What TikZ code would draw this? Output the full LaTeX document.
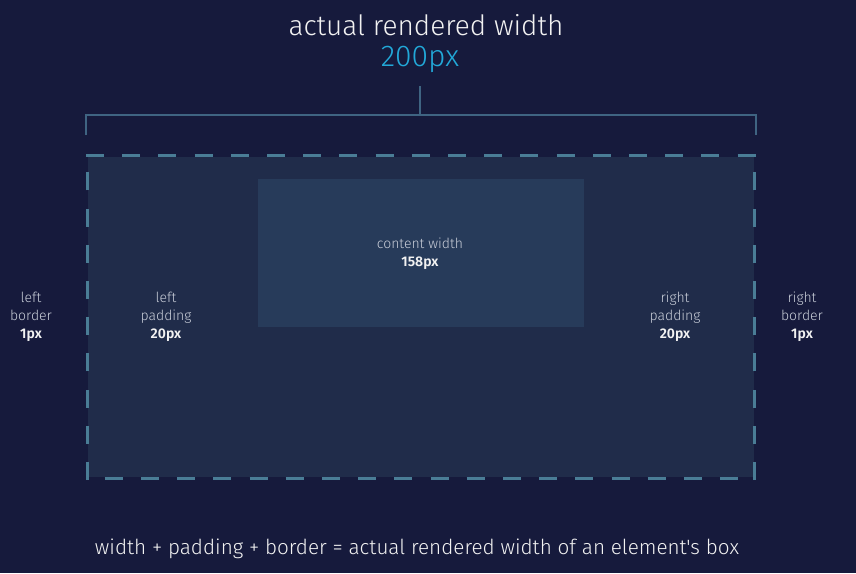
\documentclass[tikz,border=0pt]{standalone}
\usepackage{fontspec}
\setmainfont{Fira Sans}[UprightFont=* Light, BoldFont=* SemiBold]
\newfontfamily\eqfont{Fira Sans Light}
\definecolor{bg}{HTML}{161A3C}
\definecolor{boxfill}{HTML}{202C4A}
\definecolor{contentfill}{HTML}{273B5A}
\definecolor{dashcol}{HTML}{4A7D96}
\definecolor{bracketcol}{HTML}{3F6482}
\definecolor{cyanc}{HTML}{22A8D8}
\definecolor{txt}{HTML}{F2F2F2}
\definecolor{lbl}{HTML}{C8CDD8}
\tikzset{
  lab/.style={font=\fontsize{14}{18}\selectfont, text=lbl, align=center, anchor=base, inner sep=0pt},
  bordline/.style={draw=dashcol, line width=3pt},
  brk/.style={draw=bracketcol, line width=1.2pt},
}
\begin{document}
\begin{tikzpicture}[x=1pt,y=-1pt]
\fill[bg] (0,0) rectangle (856,573);
\useasboundingbox (0,0) rectangle (856,573);
% boxes
\fill[boxfill] (88,157) rectangle (754,477);
\node[fill=contentfill, minimum width=326pt, minimum height=148pt, inner sep=0pt, anchor=north west] (content) at (258,179) {};
% bracket
\coordinate (bl) at (86,135);
\coordinate (br) at (756,135);
\coordinate (bm) at (420,86);
\coordinate (bj) at (420,115);
\draw[brk] (bl) -- (86,115) -- (756,115) -- (br);
\draw[brk] (bm) -- (bj);
% dashed border
\draw[bordline, dash pattern=on 18pt off 18.2pt] (86,155) -- (756,155);
\draw[bordline, dash pattern=on 18pt off 18.2pt] (754.5,480) -- (754.5,157);
\draw[bordline, dash pattern=on 18pt off 18.2pt] (87.5,480) -- (87.5,157);
\draw[bordline, dash pattern=on 18pt off 18.2pt, dash phase=18pt] (86.5,478.5) -- (756,478.5);
% titles
\node[font=\fontsize{28}{32}\selectfont, text=txt, anchor=base, inner sep=0pt] (title) at (426,35) {actual rendered width};
\node[font=\fontsize{30}{34}\selectfont, text=cyanc, anchor=base, inner sep=0pt] (val) at (420,66) {200px};
% labels
\node[lab] (cw) at (420,266) {content width\\\textbf{\color{txt}158px}};
\node[lab] (lb) at (31,338) {left\\border\\\textbf{\color{txt}1px}};
\node[lab] (lp) at (166,338) {left\\padding\\\textbf{\color{txt}20px}};
\node[lab] (rp) at (675,338) {right\\padding\\\textbf{\color{txt}20px}};
\node[lab] (rb) at (802,338) {right\\border\\\textbf{\color{txt}1px}};
\node[font=\eqfont\fontsize{20.7}{24}\selectfont, text=txt, anchor=base, inner sep=0pt] (eq) at (417,554) {width + padding + border = actual rendered width of an element's box};
\end{tikzpicture}
\end{document}
